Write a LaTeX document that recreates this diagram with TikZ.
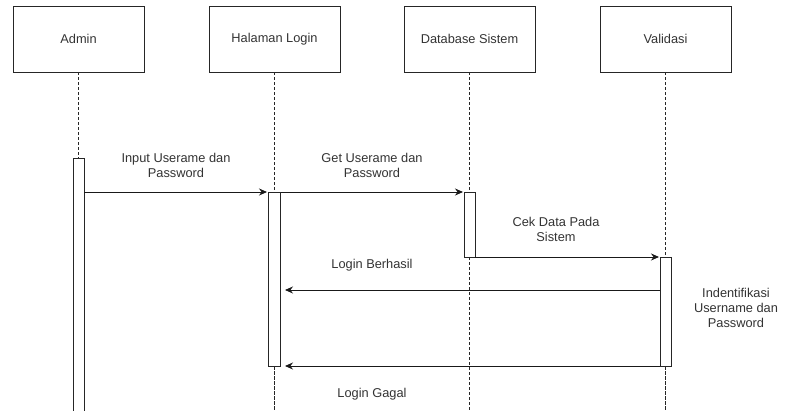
\documentclass[tikz,border=0pt]{standalone}
\usepackage{fontspec}
\setmainfont{Liberation Sans}
\usetikzlibrary{positioning,calc,arrows.meta}

\begin{document}
\begin{tikzpicture}[x=1pt,y=-1pt,>={Stealth[length=8pt,width=7pt]},
  every node/.style={font=\fontsize{12.8}{15}\selectfont,text=black!80},
  actor/.style={draw=black!85,line width=0.9pt,minimum width=131pt,minimum height=66pt},
  actbar/.style={draw=black!85,line width=0.9pt,fill=white},
  lifeline/.style={draw=black!85,dashed,dash pattern=on 3pt off 2pt,line width=0.8pt},
  msg/.style={->,draw=black!90,line width=0.9pt},
  lbl/.style={align=center}]
\useasboundingbox (0,0) rectangle (789,411);

% actors
\node[actor] (admin) at (78.5,39) {Admin};
\node[actor] (hal) at (274.5,39) {Halaman Login};
\node[actor] (db) at (469.5,39) {Database Sistem};
\node[actor] (val) at (665.5,39) {Validasi};

% lifelines
\draw[lifeline] (admin.south) -- (78.5,158);
\draw[lifeline] (hal.south) -- (274.5,411);
\draw[lifeline] (db.south) -- (469.5,411);
\draw[lifeline] (val.south) -- (665.5,411);

% activation bars
\path[actbar] (73,158) rectangle (84,414);
\path[actbar] (268.5,192) rectangle (280.5,366);
\path[actbar] (464,192) rectangle (475,257);
\path[actbar] (660,257) rectangle (671,366);
\draw[lifeline] (469.5,257) -- (469.5,411);
\draw[lifeline] (274.5,366) -- (274.5,411);
\draw[lifeline] (665.5,366) -- (665.5,411);

\coordinate (a1) at (84,192);
\coordinate (h1) at (267,192);
\coordinate (h2) at (280.5,192);
\coordinate (d1) at (463,192);
\coordinate (d2) at (475,257);
\coordinate (v1) at (659,257);
\coordinate (v2) at (660,290);
\coordinate (h3) at (285,290);
\coordinate (v3) at (660,366);
\coordinate (h4) at (285,366);

% messages
\draw[msg] (a1) -- (h1);
\draw[msg] (h2) -- (d1);
\draw[msg] (d2) -- (v1);
\draw[msg] (v2) -- (h3);
\draw[msg] (v3) -- (h4);

\node[lbl] (m1) at (176,165) {Input Userame dan\\Password};
\node[lbl] (m2) at (372,165) {Get Userame dan\\Password};
\node[lbl] (m3) at (556,229) {Cek Data Pada\\Sistem};
\node[lbl] (m4) at (372,265) {Login Berhasil};
\node[lbl] (m5) at (372,394) {Login Gagal};
\node[lbl] (note) at (736,308) {Indentifikasi\\Username dan\\Password};
\end{tikzpicture}
\end{document}
